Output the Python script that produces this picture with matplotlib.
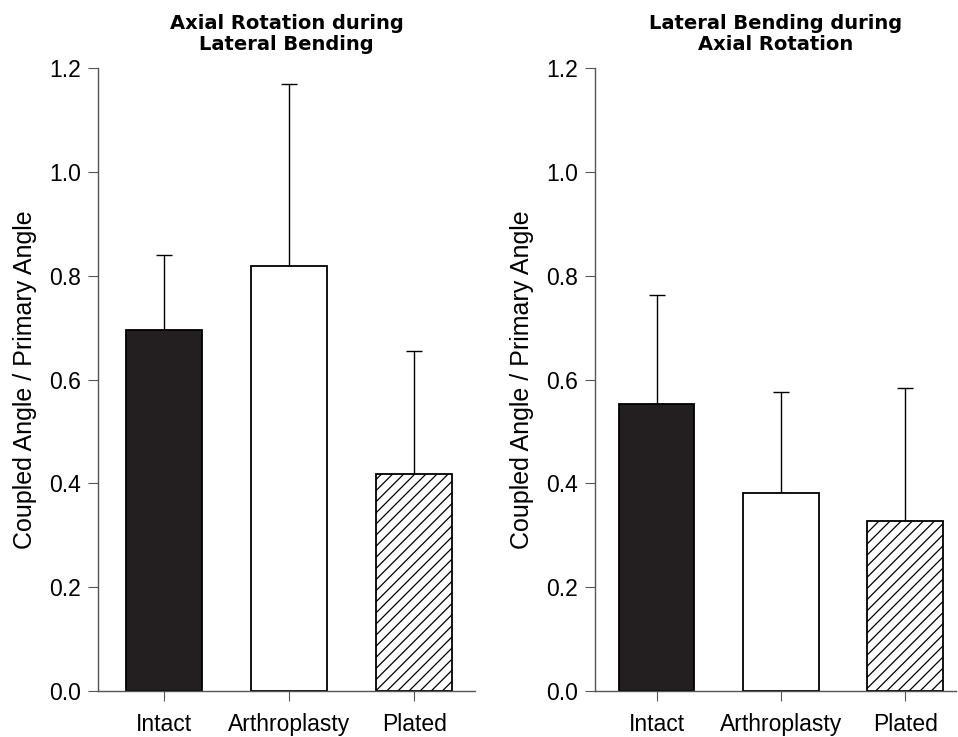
import numpy as np
import matplotlib.pyplot as plt
import matplotlib as mpl

mpl.rcParams['hatch.linewidth'] = 0.9
plt.rcParams['font.family'] = ['Liberation Sans', 'DejaVu Sans']

groups = ["Intact", "Arthroplasty", "Plated"]

# axial rotation during lateral bending
left_means = [0.695, 0.818, 0.418]
left_sd = [0.145, 0.352, 0.237]

# lateral bending during axial rotation
right_means = [0.553, 0.382, 0.328]
right_sd = [0.209, 0.193, 0.255]

titles = ["Axial Rotation during\nLateral Bending", "Lateral Bending during\nAxial Rotation"]
yticks = [0.0, 0.2, 0.4, 0.6, 0.8, 1.0, 1.2]

fills = ["#231f20", "white", "white"]
hatches = [None, None, "///"]

fig = plt.figure(figsize=(9.58, 7.37), dpi=100)
ax1 = fig.add_axes([0.102, 0.0624, 0.394, 0.8453])
ax2 = fig.add_axes([0.621, 0.0624, 0.377, 0.8453])

def draw(ax, means, sd, title, xlim):
    x = np.arange(len(groups))
    for i in range(len(groups)):
        ax.bar(x[i], means[i], width=0.61, color=fills[i], edgecolor="black",
               linewidth=1.3, hatch=hatches[i], zorder=2)
    ax.errorbar(x, means, yerr=[np.zeros(len(sd)), sd], fmt="none", ecolor="black",
                elinewidth=1.0, capsize=6, capthick=1.0, zorder=1)
    ax.set_xlim(*xlim)
    ax.set_ylim(0, 1.2)
    ax.set_yticks(yticks)
    ax.set_yticklabels([f"{t:.1f}" for t in yticks])
    ax.set_xticks(x)
    ax.set_xticklabels(groups)
    for s in ["top", "right"]:
        ax.spines[s].set_visible(False)
    for s in ["left", "bottom"]:
        ax.spines[s].set_color("#555555")
        ax.spines[s].set_linewidth(1.0)
    ax.tick_params(axis="both", direction="out", length=7, color="#555555",
                   labelsize=16.5, pad=5)
    ax.tick_params(axis="x", pad=9)
    ax.set_ylabel("Coupled Angle / Primary Angle", fontsize=18,
                  family=["Liberation Sans Narrow", "Liberation Sans"], labelpad=9)
    ax.set_title(title, fontsize=14, fontweight="bold", pad=13, linespacing=1.15,
                 family=["DejaVu Sans"])

draw(ax1, left_means, left_sd, titles[0], (-0.528, 2.488))
draw(ax2, right_means, right_sd, titles[1], (-0.496, 2.41))

fig.savefig("out.png", dpi=100)
